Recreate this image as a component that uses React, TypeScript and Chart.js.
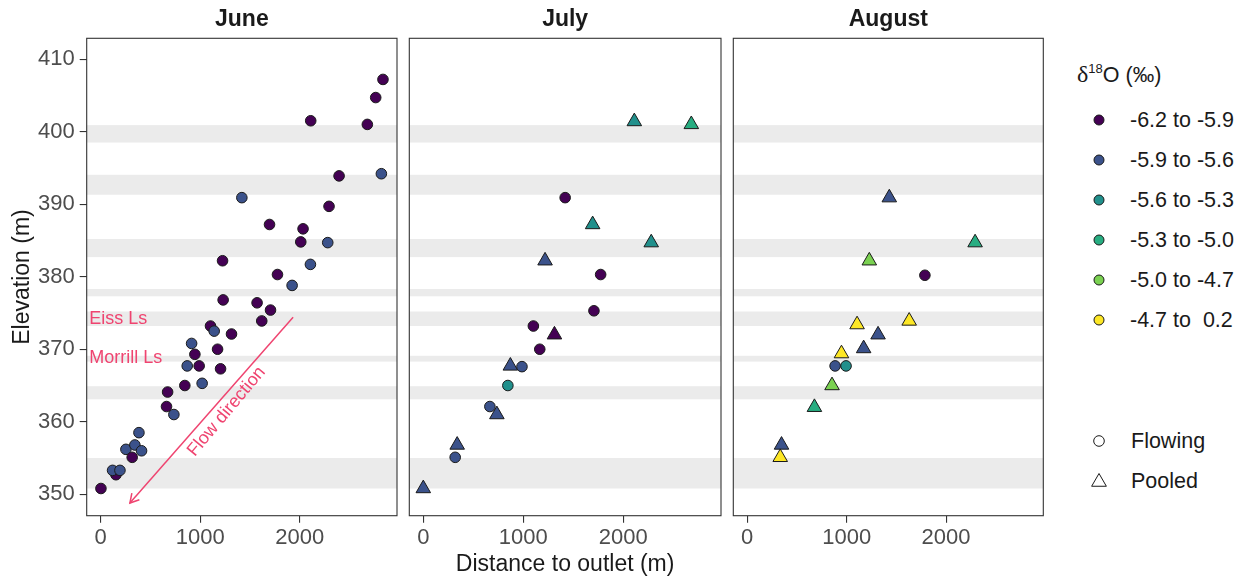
import React, { useEffect, useRef } from 'react';
import { Chart, registerables } from 'chart.js';

Chart.register(...registerables);

const FONT = '"Liberation Sans", Arial, Helvetica, sans-serif';

// ---------- categories / legend ----------
const months = ['June', 'July', 'August'];
const classLabels = ['-6.2 to -5.9', '-5.9 to -5.6', '-5.6 to -5.3', '-5.3 to -5.0', '-5.0 to -4.7', '-4.7 to  0.2'];
const classColors = ['#440154', '#3B528B', '#21908C', '#27AD81', '#7AD151', '#FDE725'];
const shapeLabels = ['Flowing', 'Pooled'];

// ---------- ticks ----------
const xTicks = [0, 1000, 2000];
const yTicks = [350, 360, 370, 380, 390, 400, 410];

// ---------- grey bands (elevation ranges) ----------
const bandLow = [398.5, 391.3, 382.7, 377.3, 373.2, 368.3, 363.1, 350.8];
const bandHigh = [400.9, 394.05, 385.2, 378.3, 375.2, 369.1, 364.9, 355.0];

// ---------- June (shape: 0 = Flowing, 1 = Pooled) ----------
const juneDistance = [2837, 2764, 2111, 2680, 2821, 2396, 1419, 2295, 1697, 2034, 2011, 2282, 1225, 2108, 1777, 1924, 1231, 1572, 1707, 1619, 1104, 1141, 1315, 914, 1175, 947, 870, 990, 1205, 846, 1020, 673, 662, 736, 385, 254, 344, 411, 317, 154, 120, 194, 3];
const juneElevation = [407.2, 404.7, 401.5, 401.0, 394.2, 393.9, 390.9, 389.7, 387.2, 386.6, 384.8, 384.7, 382.2, 381.7, 380.3, 378.8, 376.8, 376.4, 375.4, 373.9, 373.2, 372.5, 372.1, 370.8, 370.0, 369.3, 367.7, 367.7, 367.3, 365.0, 365.3, 364.1, 362.1, 361.0, 358.5, 356.2, 356.8, 356.0, 355.1, 352.7, 353.3, 353.3, 350.8];
const juneClass = [0, 0, 0, 0, 1, 0, 1, 0, 0, 0, 0, 1, 0, 1, 0, 1, 0, 0, 0, 0, 0, 1, 0, 1, 0, 0, 1, 0, 0, 0, 1, 0, 0, 1, 1, 1, 1, 1, 0, 0, 1, 1, 0];
const juneShape = juneClass.map(() => 0);

// ---------- July ----------
const julyDistance = [2111, 2681, 1419, 1694, 2280, 1218, 1774, 1707, 1101, 1312, 1165, 871, 987, 846, 666, 736, 339, 319, 0];
const julyElevation = [401.4, 401.0, 390.9, 387.2, 384.7, 382.2, 380.3, 375.3, 373.2, 372.0, 370.0, 367.7, 367.6, 365.0, 362.1, 361.0, 356.8, 355.1, 350.8];
const julyClass = [2, 3, 0, 2, 2, 1, 0, 0, 0, 0, 0, 1, 1, 2, 1, 1, 1, 1, 1];
const julyShape = [1, 1, 0, 1, 1, 1, 0, 0, 0, 1, 0, 1, 0, 0, 0, 1, 1, 0, 1];

// ---------- August ----------
const augustDistance = [1429, 2292, 1228, 1787, 1629, 1105, 1316, 1171, 948, 884, 994, 853, 676, 345, 332];
const augustElevation = [390.9, 384.7, 382.2, 380.2, 373.9, 373.4, 372.0, 370.1, 369.4, 367.7, 367.7, 365.0, 362.0, 356.8, 355.1];
const augustClass = [1, 3, 4, 0, 5, 5, 1, 1, 5, 1, 2, 4, 3, 1, 5];
const augustShape = [1, 1, 1, 0, 1, 1, 1, 1, 1, 0, 0, 1, 1, 1, 1];

// ---------- annotations (data coordinates, June panel) ----------
const layerLabels = ['Eiss Ls', 'Morrill Ls'];
const layerLabelX = -115;
const layerLabelY = [374.2, 368.8];
const arrowStart = [1934, 374.4];
const arrowEnd = [294, 348.8];
const flowLabel = 'Flow direction';
const flowLabelAt = [1265, 361.4];
const flowLabelAngle = -50;

const ANNOT = '#EF4470';
const X_MIN = -140;
const X_MAX = 2978;
const Y_MIN = 347.05;
const Y_MAX = 412.87;

const decorPlugin = {
  id: 'panelDecor',
  beforeDatasetsDraw(chart: any) {
    const { ctx, chartArea: a, scales } = chart;
    const ys = scales.y;
    ctx.save();
    ctx.fillStyle = '#EBEBEB';
    for (let i = 0; i < bandLow.length; i++) {
      const t = ys.getPixelForValue(bandHigh[i]);
      const b = ys.getPixelForValue(bandLow[i]);
      ctx.fillRect(a.left, t, a.right - a.left, b - t);
    }
    ctx.restore();
  },
  afterDatasetsDraw(chart: any, _args: any, opts: any) {
    const { ctx, chartArea: a, scales } = chart;
    const xs = scales.x;
    const ys = scales.y;
    if (opts && opts.annotate) {
      ctx.save();
      ctx.strokeStyle = ANNOT;
      ctx.fillStyle = ANNOT;
      ctx.lineWidth = 1.5;
      const x0 = xs.getPixelForValue(arrowStart[0]);
      const y0 = ys.getPixelForValue(arrowStart[1]);
      const x1 = xs.getPixelForValue(arrowEnd[0]);
      const y1 = ys.getPixelForValue(arrowEnd[1]);
      ctx.beginPath();
      ctx.moveTo(x0, y0);
      ctx.lineTo(x1, y1);
      ctx.stroke();
      const ang = Math.atan2(y1 - y0, x1 - x0);
      const head = 10;
      const spread = Math.PI / 6;
      ctx.beginPath();
      ctx.moveTo(x1 - head * Math.cos(ang - spread), y1 - head * Math.sin(ang - spread));
      ctx.lineTo(x1, y1);
      ctx.lineTo(x1 - head * Math.cos(ang + spread), y1 - head * Math.sin(ang + spread));
      ctx.stroke();

      ctx.font = `18px ${FONT}`;
      ctx.textAlign = 'left';
      ctx.textBaseline = 'middle';
      layerLabels.forEach((t, i) => {
        ctx.fillText(t, xs.getPixelForValue(layerLabelX), ys.getPixelForValue(layerLabelY[i]));
      });
      ctx.translate(xs.getPixelForValue(flowLabelAt[0]), ys.getPixelForValue(flowLabelAt[1]));
      ctx.rotate((flowLabelAngle * Math.PI) / 180);
      ctx.textAlign = 'center';
      ctx.fillText(flowLabel, 0, 0);
      ctx.restore();
    }
    ctx.save();
    ctx.strokeStyle = '#333333';
    ctx.lineWidth = 1.1;
    ctx.strokeRect(a.left, a.top, a.right - a.left, a.bottom - a.top);
    ctx.restore();
  },
};

type PanelProps = {
  month: string;
  dist: number[];
  elev: number[];
  cls: number[];
  shape: number[];
  left: number;
  width: number;
  padLeft: number;
  padRight: number;
  showY: boolean;
  showXTitle: boolean;
  annotate: boolean;
};

function Panel(p: PanelProps) {
  const ref = useRef<HTMLCanvasElement>(null);
  useEffect(() => {
    const tickFont = { family: FONT, size: 22 };
    const chart = new Chart(ref.current as HTMLCanvasElement, {
      type: 'scatter',
      data: {
        datasets: [
          {
            data: p.dist.map((x, i) => ({ x, y: p.elev[i] })),
            pointStyle: p.shape.map((s) => (s === 0 ? 'circle' : 'triangle')) as any,
            pointRadius: p.shape.map((s) => (s === 0 ? 5.3 : 8.4)),
            pointBackgroundColor: p.cls.map((c) => classColors[c]),
            pointBorderColor: '#1A1A1A',
            pointBorderWidth: 1,
          } as any,
        ],
      },
      options: {
        responsive: false,
        animation: false,
        events: [],
        layout: { autoPadding: false, padding: { top: 0, bottom: 0, left: p.padLeft, right: p.padRight } },
        plugins: {
          legend: { display: false },
          tooltip: { enabled: false },
          title: {
            display: true,
            text: p.month,
            fullSize: false,
            color: '#1A1A1A',
            font: { family: FONT, size: 23, weight: 'bold', lineHeight: 1.2 },
            padding: { top: 6, bottom: 4.7 },
          },
          panelDecor: { annotate: p.annotate },
        } as any,
        scales: {
          x: {
            type: 'linear',
            min: X_MIN,
            max: X_MAX,
            afterBuildTicks: (s: any) => {
              s.ticks = xTicks.map((v) => ({ value: v }));
            },
            afterFit: (s: any) => {
              s.height = 61.3;
              s.paddingLeft = 0;
              s.paddingRight = 0;
            },
            ticks: { font: tickFont, color: '#4D4D4D', padding: 2.5, maxRotation: 0, callback: (v: any) => String(v) },
            grid: { drawOnChartArea: false, drawTicks: true, tickLength: 7, color: '#333333', lineWidth: 1.1 },
            border: { display: false },
            title: {
              display: p.showXTitle,
              text: 'Distance to outlet (m)',
              color: '#1A1A1A',
              font: { family: FONT, size: 23, lineHeight: 1.1 },
              padding: { top: 0, bottom: 0 },
            },
          },
          y: {
            type: 'linear',
            display: p.showY,
            min: Y_MIN,
            max: Y_MAX,
            afterBuildTicks: (s: any) => {
              s.ticks = yTicks.map((v) => ({ value: v }));
            },
            afterFit: (s: any) => {
              s.width = p.showY ? 86.7 : 0;
              s.paddingTop = 0;
              s.paddingBottom = 0;
            },
            ticks: { font: tickFont, color: '#4D4D4D', padding: 5, callback: (v: any) => String(v) },
            grid: { drawOnChartArea: false, drawTicks: true, tickLength: 7, color: '#333333', lineWidth: 1.1 },
            border: { display: false },
            title: {
              display: true,
              text: 'Elevation (m)',
              color: '#1A1A1A',
              font: { family: FONT, size: 23, lineHeight: 1.2 },
              padding: { top: 8.5, bottom: 0 },
            },
          },
        },
      } as any,
      plugins: [decorPlugin as any],
    });
    return () => chart.destroy();
  }, []);
  return (
    <canvas
      ref={ref}
      width={p.width}
      height={577}
      style={{ position: 'absolute', left: p.left, top: 0, width: p.width, height: 577 }}
    />
  );
}

function Legend() {
  const fs = 21.5;
  const keyX = 1099;
  const classY = classLabels.map((_, i) => 120 + 40 * i);
  const shapeY = [441, 481];
  const triR = 8.5;
  const tri = (cx: number, cy: number) =>
    [0, 1, 2]
      .map((k) => {
        const a = (k * 2 * Math.PI) / 3;
        return `${cx + Math.sin(a) * triR},${cy - Math.cos(a) * triR}`;
      })
      .join(' ');
  return (
    <>
      <div
        style={{
          position: 'absolute',
          left: 1077,
          top: 63.9,
          fontFamily: FONT,
          fontSize: 21.5,
          lineHeight: '21px',
          color: '#1A1A1A',
          whiteSpace: 'pre',
        }}
      >
        <span style={{ fontFamily: '"Liberation Serif", "DejaVu Serif", serif', fontSize: 24 }}>δ</span>
        <span style={{ fontSize: 13, position: 'relative', top: -9 }}>18</span>
        <span>O (‰)</span>
      </div>
      <svg
        width={60}
        height={577}
        style={{ position: 'absolute', left: keyX - 30, top: 0 }}
        viewBox={`${keyX - 30} 0 60 577`}
      >
        {classY.map((cy, i) => (
          <circle key={i} cx={keyX} cy={cy} r={5} fill={classColors[i]} stroke="#1A1A1A" strokeWidth={1} />
        ))}
        <circle cx={keyX} cy={shapeY[0]} r={5.3} fill="none" stroke="#1A1A1A" strokeWidth={1} />
        <polygon points={tri(keyX, shapeY[1] + 1)} fill="none" stroke="#1A1A1A" strokeWidth={1} />
      </svg>
      {classLabels.map((t, i) => (
        <div
          key={t}
          style={{
            position: 'absolute',
            left: 1130,
            top: classY[i] + 1 - 0.49 * fs,
            fontFamily: FONT,
            fontSize: fs,
            lineHeight: `${fs}px`,
            color: '#1A1A1A',
            whiteSpace: 'pre',
          }}
        >
          {t}
        </div>
      ))}
      {shapeLabels.map((t, i) => (
        <div
          key={t}
          style={{
            position: 'absolute',
            left: 1131,
            top: shapeY[i] + 1 - 0.49 * fs,
            fontFamily: FONT,
            fontSize: fs,
            lineHeight: `${fs}px`,
            color: '#1A1A1A',
            whiteSpace: 'pre',
          }}
        >
          {t}
        </div>
      ))}
    </>
  );
}

export default function App() {
  return (
    <div
      style={{
        position: 'fixed',
        left: 0,
        top: 0,
        width: 1244,
        height: 577,
        background: '#FFFFFF',
        overflow: 'hidden',
      }}
    >
      <Panel
        month={months[0]}
        dist={juneDistance}
        elev={juneElevation}
        cls={juneClass}
        shape={juneShape}
        left={0}
        width={404}
        padLeft={0}
        padRight={7}
        showY={true}
        showXTitle={false}
        annotate={true}
      />
      <Panel
        month={months[1]}
        dist={julyDistance}
        elev={julyElevation}
        cls={julyClass}
        shape={julyShape}
        left={404}
        width={325}
        padLeft={5.3}
        padRight={8}
        showY={false}
        showXTitle={true}
        annotate={false}
      />
      <Panel
        month={months[2]}
        dist={augustDistance}
        elev={augustElevation}
        cls={augustClass}
        shape={augustShape}
        left={729}
        width={325}
        padLeft={4.3}
        padRight={10.7}
        showY={false}
        showXTitle={false}
        annotate={false}
      />
      <Legend />
    </div>
  );
}
